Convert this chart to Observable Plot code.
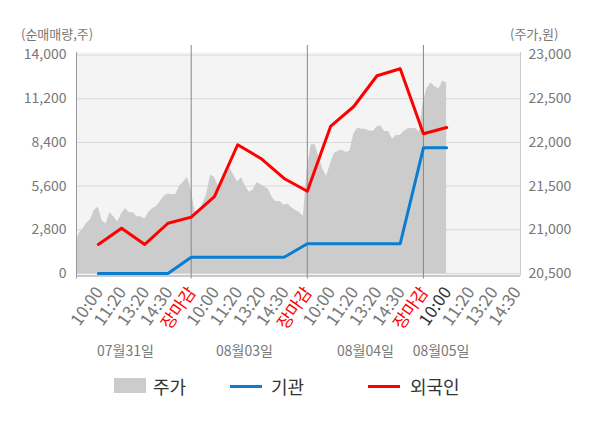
<!DOCTYPE html>
<html><head><meta charset="utf-8">
<script src="https://cdn.jsdelivr.net/npm/d3@7"></script>
<script src="https://cdn.jsdelivr.net/npm/@observablehq/plot@0.6"></script>
<style>
body{margin:0;background:#fff;font-family:"Noto Sans CJK KR","Noto Sans",sans-serif;}
#wrap{position:relative;width:600px;height:428px;overflow:hidden;}
#chart{position:absolute;left:0;top:0;}
.ttl{position:absolute;top:25px;font-size:13px;color:#777;line-height:18px;white-space:nowrap;}
.lg{position:absolute;}
.lt{position:absolute;top:374px;font-size:18px;color:#333;line-height:24px;white-space:nowrap;}
</style></head>
<body>
<div id="wrap">
  <div id="chart"></div>
  <div class="ttl" style="left:21px">(순매매량,주)</div>
  <div class="ttl" style="left:510px">(주가,원)</div>
  <div class="lg" style="left:114px;top:378px;width:32px;height:15px;background:#cccccc"></div>
  <div class="lt" style="left:153px">주가</div>
  <div class="lg" style="left:230px;top:385px;width:32px;height:3px;background:#0b7dd0"></div>
  <div class="lt" style="left:271px">기관</div>
  <div class="lg" style="left:368px;top:385px;width:32px;height:3px;background:#ff0000"></div>
  <div class="lt" style="left:410px">외국인</div>
</div>
<script>
// 시간 라벨 (하루 5칸)
const timeLabels = ["10:00", "11:20", "13:20", "14:30", "장마감"];
const dateLabels = ["07월31일", "08월03일", "08월04일", "08월05일"];
const dateSlots = [2.17, 7.29, 12.5, 15.76];

// 순매매량 (주) — 각 시간 라벨 지점
const foreign = [1860, 2900, 1860, 3220, 3610, 4930, 8250, 7370, 6090, 5270, 9420, 10700, 12670, 13115, 8950, 9350];
const institution = [0, 0, 0, 0, 1045, 1045, 1045, 1045, 1045, 1905, 1905, 1905, 1905, 1905, 8055, 8055];

// 주가 (원) — 하루 30개 표본
const price0731 = [20815, 20955, 21010, 21075, 21115, 21225, 21260, 21100, 21070, 21195, 21150, 21090, 21180, 21245, 21195, 21195, 21150, 21150, 21125, 21195, 21245, 21265, 21320, 21385, 21410, 21400, 21405, 21495, 21545, 21600];
const price0803 = [21460, 21205, 21205, 21295, 21410, 21625, 21600, 21500, 21530, 21625, 21705, 21625, 21550, 21595, 21500, 21430, 21455, 21540, 21515, 21490, 21460, 21365, 21320, 21325, 21280, 21295, 21250, 21225, 21195, 21155];
const price0804 = [21705, 21970, 21975, 21830, 21695, 21610, 21760, 21875, 21900, 21910, 21885, 21900, 22095, 22165, 22150, 22150, 22130, 22125, 22175, 22190, 22125, 22125, 22035, 22080, 22080, 22125, 22155, 22160, 22160, 22115];
const price0805 = [22475, 22625, 22680, 22635, 22615, 22700, 22680];

const leftTicks = [0, 2800, 5600, 8400, 11200, 14000];
const priceTicks = [20500, 21000, 21500, 22000, 22500, 23000];

// 주가 → 왼쪽 축 단위 변환
const pMin = priceTicks[0], pMax = priceTicks[priceTicks.length - 1];
const lMax = leftTicks[leftTicks.length - 1];
const toLeft = p => (p - pMin) / (pMax - pMin) * lMax;

const perDay = timeLabels.length;
const samples = 30;
const priceRows = [price0731, price0803, price0804, price0805].flatMap((arr, d) =>
  arr.map((p, i) => ({slot: d * perDay + i * perDay / samples, v: toLeft(p)})));
const foreignRows = foreign.map((v, i) => ({slot: i + 1, v}));
const instRows = institution.map((v, i) => ({slot: i + 1, v}));

const xTicks = d3.range(1, 20).map(s => ({slot: s, label: timeLabels[(s - 1) % perDay]}));
const daySeps = [5, 10, 15];
const current = 16;
const dates = dateLabels.map((t, i) => ({slot: dateSlots[i], t}));

const xDomain = [0.06, 19.18];
const yDomain = [-160, 14160];
const H = 365;
const font = '"Noto Sans CJK KR","Noto Sans",sans-serif';
const tickText = {x: "slot", text: "label", frameAnchor: "bottom", rotate: -55, textAnchor: "end", lineAnchor: "middle", dx: 1, dy: 13, fontSize: 17};

const chart = Plot.plot({
  width: 600, height: H,
  marginLeft: 76, marginRight: 80, marginTop: 52, marginBottom: H - 275.5,
  x: {domain: xDomain, axis: null},
  y: {domain: yDomain, axis: null},
  style: {fontFamily: font, background: "transparent", overflow: "visible"},
  marks: [
    Plot.frame({fill: "#f4f4f4", stroke: null}),
    Plot.ruleY(leftTicks, {stroke: "#d8d8d8", strokeWidth: 1}),
    Plot.areaY(priceRows, {x: "slot", y: "v", fill: "#cccccc", clip: true}),
    Plot.ruleX(daySeps, {stroke: "#888888", strokeWidth: 1, insetTop: -7, insetBottom: -3}),
    Plot.ruleX([xDomain[0]], {stroke: "#999999", insetBottom: -3}),
    Plot.ruleX([xDomain[1]], {stroke: "#cccccc"}),
    Plot.ruleY([yDomain[0]], {stroke: "#999999"}),
    Plot.line(instRows, {x: "slot", y: "v", stroke: "#0b7dd0", strokeWidth: 3}),
    Plot.line(foreignRows, {x: "slot", y: "v", stroke: "#ff0000", strokeWidth: 3}),
    Plot.axisY(leftTicks, {anchor: "left", label: null, tickSize: 0, tickPadding: 10, tickFormat: d3.format(","), color: "#777", fontSize: 14}),
    Plot.axisY(leftTicks, {anchor: "right", label: null, tickSize: 0, tickPadding: 8, tickFormat: (v, i) => d3.format(",")(priceTicks[i]), color: "#777", fontSize: 14}),
    Plot.text(xTicks.filter(d => d.label !== "장마감" && d.slot !== current), {...tickText, fill: "#777"}),
    Plot.text(xTicks.filter(d => d.label === "장마감"), {...tickText, fill: "#ff0000"}),
    Plot.text(xTicks.filter(d => d.slot === current), {...tickText, fill: "#333"}),
    Plot.text(dates, {x: "slot", text: "t", frameAnchor: "bottom", dy: 80, fill: "#777", fontSize: 14})
  ]
});
document.getElementById("chart").appendChild(chart);
</script>
</body></html>
